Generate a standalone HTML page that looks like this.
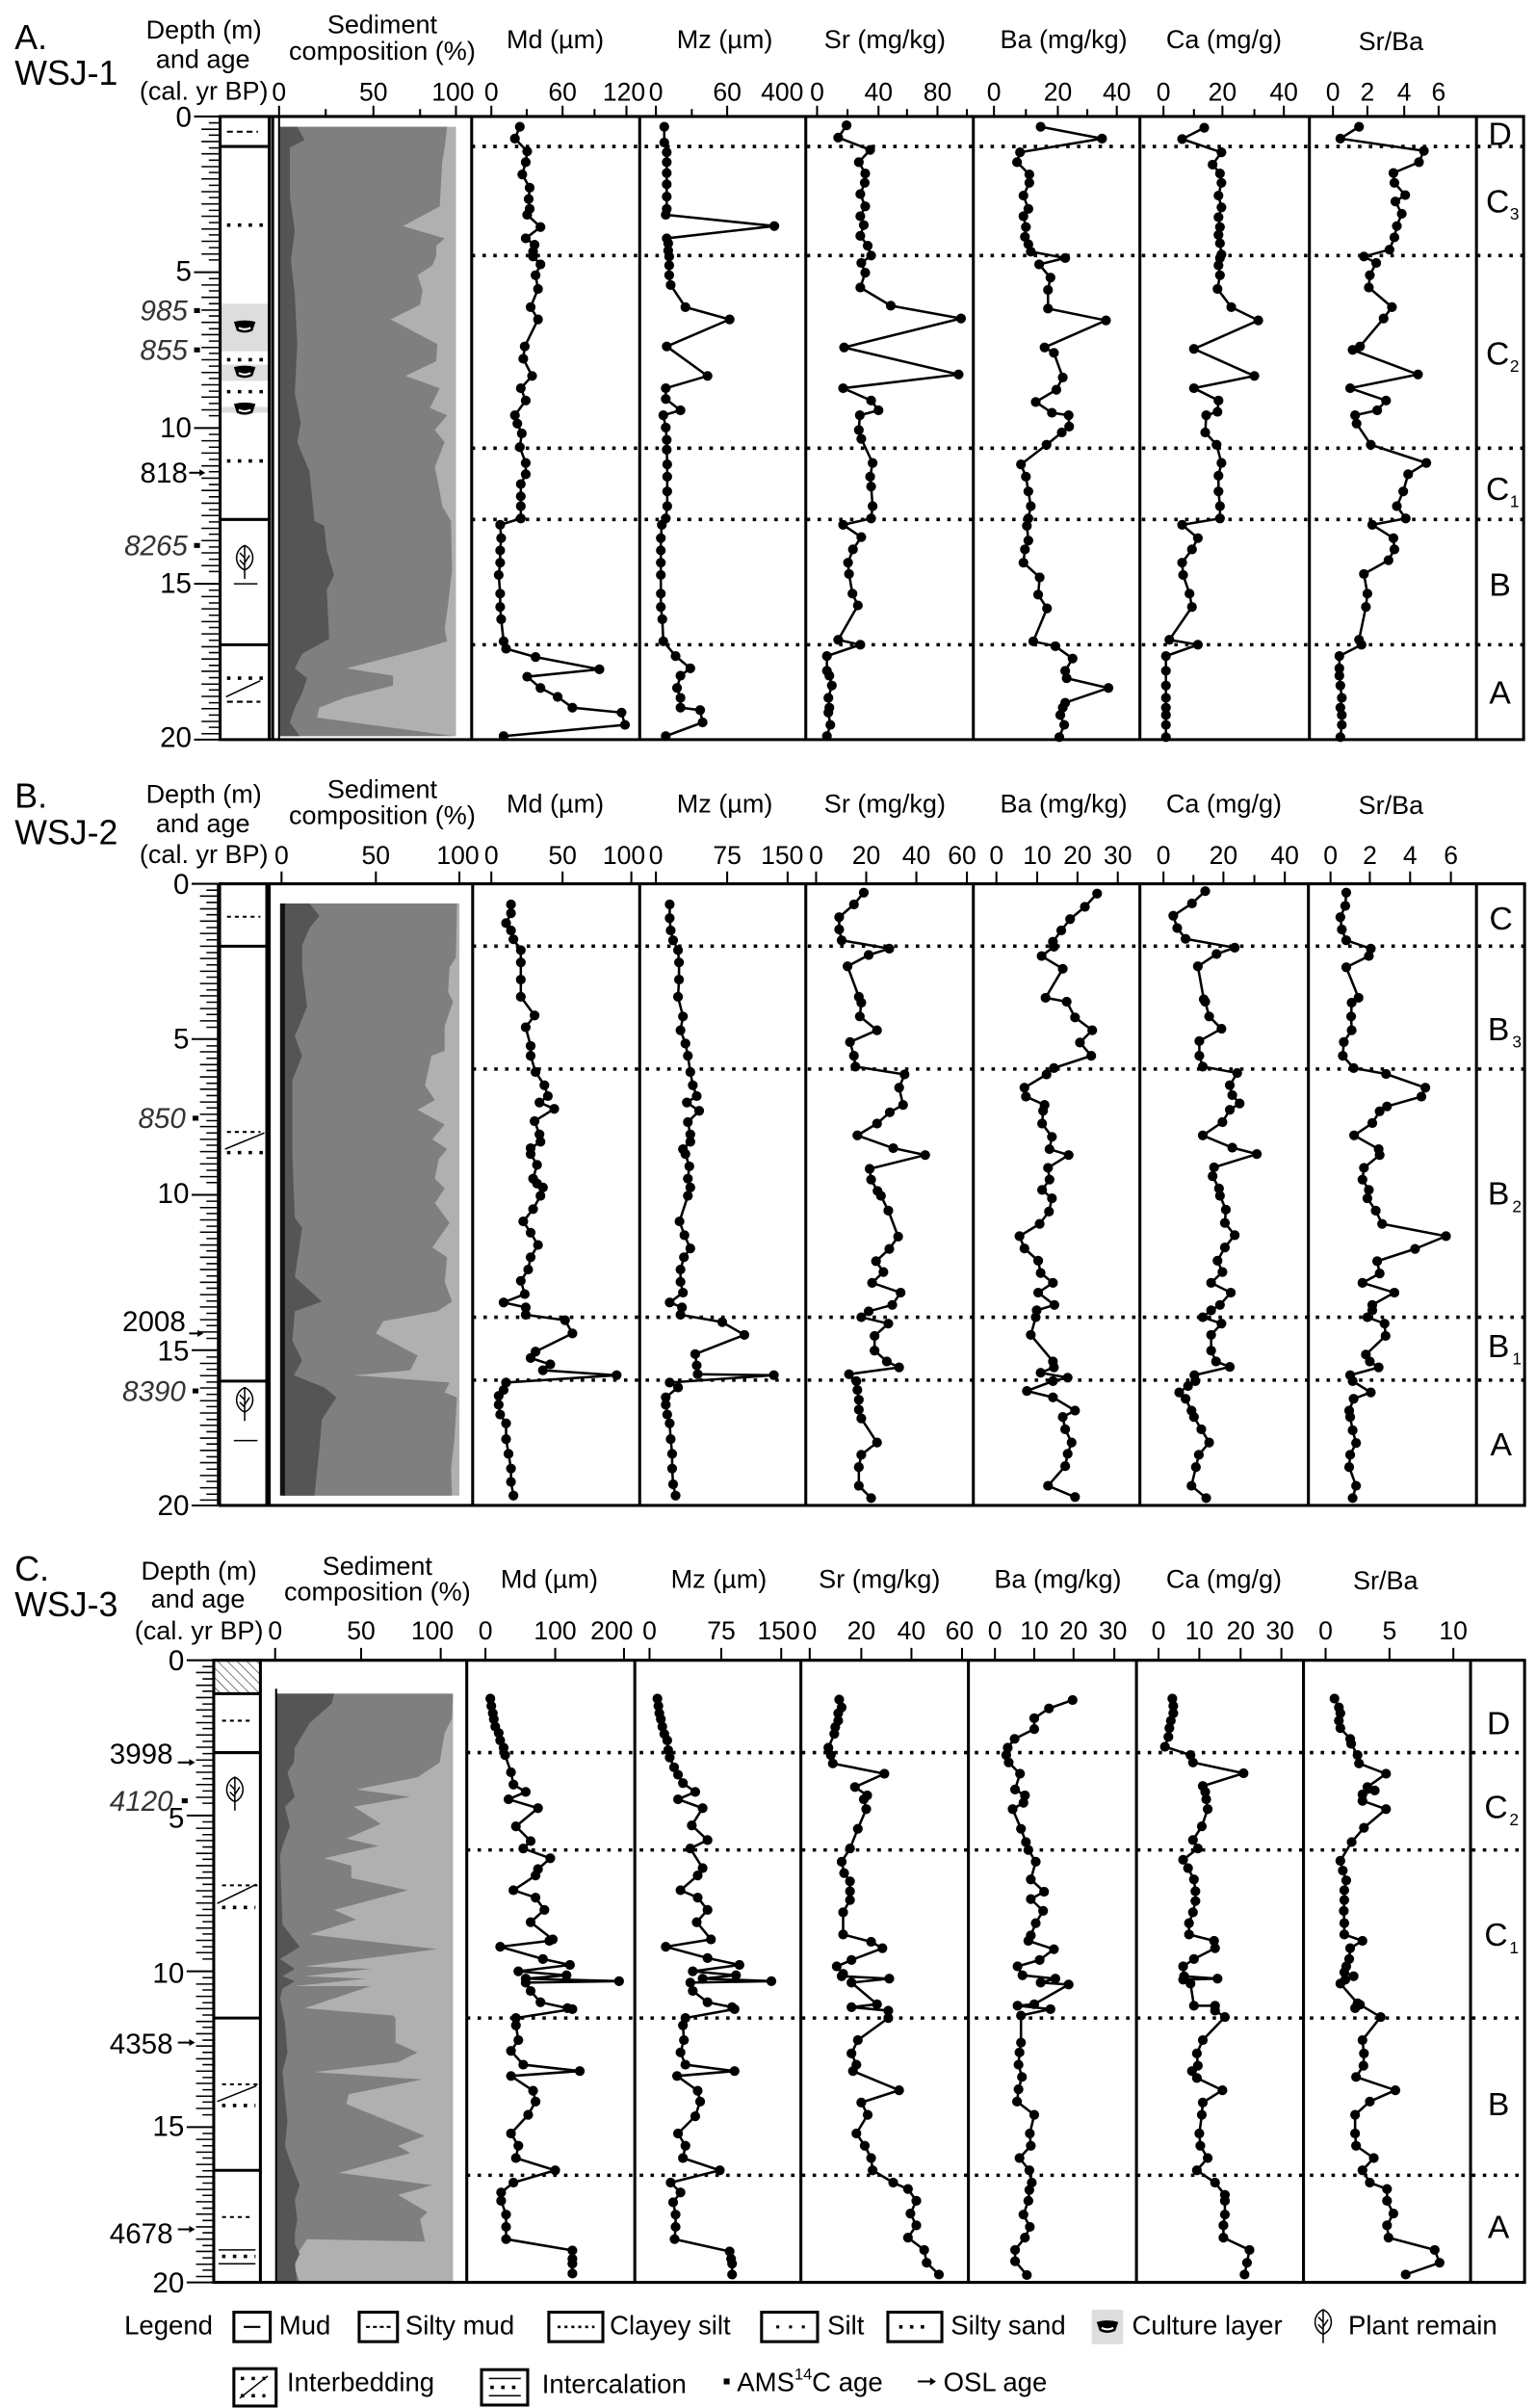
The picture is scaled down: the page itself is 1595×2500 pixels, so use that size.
<!DOCTYPE html>
<html><head><meta charset="utf-8"><style>html,body{margin:0;padding:0;background:#fff}svg{display:block}</style></head><body>
<svg xmlns="http://www.w3.org/2000/svg" width="1595" height="2500" viewBox="0 0 3126.2 4900" font-family="'Liberation Sans', Arial, sans-serif">
<defs>
<marker id="d" markerWidth="24" markerHeight="24" refX="12" refY="12" markerUnits="userSpaceOnUse"><circle cx="12" cy="12" r="10" fill="#000"/></marker>
<pattern id="hatch" width="14" height="14" patternUnits="userSpaceOnUse" patternTransform="rotate(-45)"><line x1="0" y1="0" x2="0" y2="14" stroke="#000" stroke-width="2"/></pattern>
<g id="bowl"><path d="M-22,-10 Q0,-16 22,-10 L16,8 Q0,16 -16,8 Z" fill="#000"/><path d="M-12,2 Q0,8 12,2" stroke="#fff" stroke-width="4" fill="none"/></g>
<g id="leaf"><path d="M0,-30 C22,-20 22,10 0,20 C-22,10 -22,-20 0,-30 Z M0,-30 L0,38 M0,-5 L-10,-15 M0,5 L10,-10 M0,10 L-10,0" fill="none" stroke="#000" stroke-width="3"/></g>
</defs>
<rect width="3126.2" height="4900" fill="#fff"/>
<style>
.s{fill:none;stroke:#000;stroke-width:5;stroke-linejoin:round;marker-start:url(#d);marker-mid:url(#d);marker-end:url(#d)}
.f{fill:none;stroke:#000;stroke-width:6}
.dot{stroke:#000;stroke-width:7;stroke-dasharray:7 15}
.t{font-size:53px;text-anchor:middle}
.k{font-size:52px;text-anchor:middle}
.dl{font-size:58px;text-anchor:end}
.ag{font-size:58px;text-anchor:end;font-style:italic;fill:#333}
.lt{font-size:66px;text-anchor:middle}
.sub{font-size:34px}
.hd{font-size:70px}
</style>

<!-- ================= PANEL A ================= -->
<g>
<text class="hd" x="30" y="100">A.</text><text class="hd" x="30" y="172">WSJ-1</text>
<text class="t" x="415" y="78">Depth (m)</text><text class="t" x="413" y="138">and age</text><text class="t" x="415" y="203">(cal. yr BP)</text>
<text class="t" x="778" y="68">Sediment</text><text class="t" x="778" y="122">composition (%)</text>
<text class="t" x="1130" y="98">Md (µm)</text><text class="t" x="1475" y="98">Mz (µm)</text>
<text class="t" x="1801" y="98">Sr (mg/kg)</text><text class="t" x="2165" y="98">Ba (mg/kg)</text><text class="t" x="2491" y="98">Ca (mg/g)</text><text class="t" x="2831" y="102">Sr/Ba</text>
<g class="k">
<text x="568" y="205">0</text><text x="760" y="205">50</text><text x="922" y="205">100</text>
<text x="1000" y="205">0</text><text x="1145" y="205">60</text><text x="1270" y="205">120</text>
<text x="1335" y="205">0</text><text x="1480" y="205">60</text><text x="1592" y="205">400</text>
<text x="1663" y="205">0</text><text x="1788" y="205">40</text><text x="1908" y="205">80</text>
<text x="2023" y="205">0</text><text x="2153" y="205">20</text><text x="2273" y="205">40</text>
<text x="2368" y="205">0</text><text x="2488" y="205">20</text><text x="2613" y="205">40</text>
<text x="2713" y="205">0</text><text x="2783" y="205">2</text><text x="2858" y="205">4</text><text x="2928" y="205">6</text>
</g>
<path stroke="#000" stroke-width="4" d="M568,215V237M663,222V237M760,215V237M855,222V237M928,215V237M1000,215V237M1072,222V237M1145,215V237M1210,222V237M1275,215V237M1335,215V237M1408,222V237M1480,215V237M1663,215V237M1725,222V237M1788,215V237M1846,222V237M1908,215V237M1968,222V237M2023,215V237M2088,222V237M2153,215V237M2213,222V237M2273,215V237M2368,215V237M2430,222V237M2488,215V237M2553,222V237M2613,215V237M2713,215V237M2783,215V237M2858,215V237M2928,215V237"/>
<path stroke="#000" stroke-width="3" d="M448,237V1505"/>
<text class="dl" x="390" y="258">0</text><text class="dl" x="390" y="571">5</text><text class="dl" x="390" y="890">10</text><text class="dl" x="390" y="1206">15</text><text class="dl" x="390" y="1520">20</text>
<text class="ag" x="382" y="652">985</text><text class="ag" x="382" y="732">855</text><text class="dl" x="382" y="982">818</text><text class="ag" x="382" y="1130">8265</text>
<rect x="395" y="627" width="12" height="10"/><rect x="395" y="707" width="12" height="10"/><rect x="395" y="1105" width="12" height="10"/>
<path d="M385,962H410" stroke="#000" stroke-width="4"/><path d="M418,962l-12,-7v14z"/>
<rect x="448" y="618" width="100" height="97" fill="#ddd"/><rect x="448" y="742" width="100" height="33" fill="#ddd"/><rect x="448" y="828" width="100" height="12" fill="#ddd"/>
<use href="#bowl" x="498" y="665"/><use href="#bowl" x="498" y="757"/><use href="#bowl" x="498" y="832"/>
<path stroke="#000" stroke-width="4" stroke-dasharray="12 8" d="M462,268H525"/>
<path class="dot" d="M462,458H538M462,732H538M462,797H538M462,938H538M462,1380H538"/>
<path stroke="#000" stroke-width="3" d="M460,1418L530,1385M476,1188H524"/>
<path stroke="#000" stroke-width="4" stroke-dasharray="12 8" d="M462,1428H530"/>
<use href="#leaf" x="498" y="1140"/>
<path stroke="#000" stroke-width="6" d="M448,298H548M448,1057H548M448,1312H548"/>
<rect x="570" y="258" width="358" height="1240" fill="#b0b0b0"/>
<polygon fill="#7f7f7f" points="570,258 910,258 905,300 900,330 895,420 820,460 905,485 888,500 888,520 880,540 850,560 860,590 855,620 795,650 890,700 888,735 825,765 895,790 875,830 910,845 885,875 905,900 885,950 895,1000 900,1030 918,1060 920,1160 912,1230 905,1280 910,1305 860,1320 705,1360 800,1375 800,1395 700,1420 650,1440 645,1460 925,1498 570,1498"/>
<polygon fill="#555" points="570,258 605,258 620,285 590,300 590,400 600,470 592,530 600,600 605,700 600,800 612,860 605,900 630,960 640,1060 660,1070 665,1120 680,1170 665,1200 670,1300 615,1330 600,1360 625,1380 615,1410 600,1440 590,1470 610,1498 570,1498"/>
<path class="f" d="M448,237H3101V1505H448ZM548,237V1505M555,237V1505M960,237V1505M1302,237V1505M1640,237V1505M1981,237V1505M2320,237V1505M2665,237V1505M3005,237V1505"/>
<path stroke="#000" stroke-width="4" d="M568,237V1505"/>
<path class="dot" d="M960,298H3101M960,520H3101M960,912H3101M960,1057H3101M960,1312H3101"/>
<g class="lt"><text x="3053" y="295">D</text><text x="3048" y="432">C</text><text x="3048" y="742">C</text><text x="3048" y="1017">C</text><text x="3053" y="1212">B</text><text x="3053" y="1432">A</text></g>
<g class="sub"><text x="3073" y="447">3</text><text x="3073" y="757">2</text><text x="3073" y="1032">1</text></g>
<polyline class="s" points="1058,258 1048,282 1073,308 1070,330 1063,355 1078,382 1076,405 1078,425 1073,437 1100,462 1070,485 1088,498 1085,512 1085,522 1100,538 1090,560 1095,588 1080,625 1095,650 1068,705 1065,730 1083,765 1060,790 1070,815 1048,845 1053,862 1062,882 1058,910 1070,942 1070,965 1060,985 1060,1010 1060,1030 1060,1055 1018,1068 1020,1095 1018,1120 1018,1145 1015,1170 1018,1208 1018,1235 1020,1260 1025,1305 1030,1320 1090,1337 1220,1362 1073,1377 1100,1400 1135,1418 1165,1440 1265,1450 1272,1475 1025,1498"/>
<polyline class="s" points="1352,258 1352,290 1357,310 1357,330 1357,352 1357,375 1357,400 1357,425 1355,437 1576,460 1357,485 1360,495 1360,510 1362,522 1362,540 1362,560 1365,580 1395,625 1485,650 1357,705 1440,765 1355,790 1355,812 1385,835 1350,845 1355,870 1357,895 1357,915 1358,945 1358,970 1358,1000 1358,1030 1355,1055 1347,1068 1345,1095 1345,1120 1345,1145 1345,1170 1345,1208 1345,1235 1348,1260 1350,1305 1375,1335 1405,1360 1385,1375 1378,1400 1385,1420 1385,1440 1425,1445 1430,1470 1355,1498"/>
<g transform="translate(1568,0)">
<polyline class="s" points="155,255 138,280 203,305 180,330 193,353 192,372 183,395 193,420 183,440 190,458 183,480 198,500 205,520 185,535 193,555 183,585 245,622 388,648 150,707 383,762 148,790 205,815 220,835 182,845 180,875 185,893 208,942 203,970 205,990 208,1030 205,1055 148,1068 185,1093 168,1118 158,1145 160,1168 167,1208 178,1232 138,1302 183,1312 115,1335 115,1365 120,1375 125,1395 118,1420 120,1440 118,1450 122,1475 115,1498"/>
<polyline class="s" points="550,258 675,282 508,310 502,330 527,355 527,372 515,398 525,425 515,440 520,462 518,482 525,497 530,512 600,525 547,538 570,565 565,590 565,628 683,652 558,707 577,718 595,768 582,793 540,818 573,840 607,845 608,868 593,880 562,905 510,945 520,970 525,1000 530,1030 525,1055 522,1070 525,1100 518,1118 515,1145 548,1175 545,1210 563,1238 535,1305 580,1315 615,1340 600,1365 603,1380 688,1400 600,1430 595,1440 590,1455 598,1475 588,1500"/>
<polyline class="s" points="883,260 838,283 918,310 900,335 915,353 918,372 912,398 918,422 912,442 915,462 912,478 915,495 918,518 915,525 912,540 915,560 910,588 938,625 993,652 862,710 985,765 862,790 912,815 910,838 887,845 885,880 908,905 918,942 912,968 912,1000 915,1030 915,1055 838,1068 870,1095 858,1118 838,1145 840,1170 853,1208 858,1235 812,1302 870,1312 805,1335 805,1365 805,1395 805,1420 805,1440 805,1455 805,1475 805,1500"/>
<polyline class="s" points="1198,258 1160,282 1330,307 1320,330 1268,352 1270,372 1292,397 1272,410 1285,435 1275,460 1270,483 1260,508 1208,522 1233,535 1220,560 1218,585 1265,625 1248,648 1200,705 1185,712 1318,762 1180,790 1253,815 1235,835 1190,845 1193,862 1222,905 1335,942 1298,965 1288,1000 1275,1030 1293,1055 1225,1068 1268,1095 1270,1118 1258,1140 1208,1168 1215,1208 1212,1235 1198,1302 1203,1312 1158,1335 1158,1360 1158,1375 1160,1395 1163,1420 1160,1440 1163,1455 1163,1475 1160,1500"/>
</g>
<path stroke="#000" stroke-width="3" d="M425,250H448M410,263H448M425,275H448M410,288H448M425,301H448M410,313H448M425,326H448M410,339H448M425,351H448M410,364H448M425,377H448M410,390H448M425,402H448M410,415H448M425,428H448M410,440H448M425,453H448M410,466H448M425,478H448M410,491H448M425,504H448M410,517H448M425,529H448M425,567H448M410,580H448M425,592H448M410,605H448M425,618H448M410,631H448M425,643H448M410,656H448M425,669H448M410,681H448M425,694H448M410,707H448M425,719H448M410,732H448M425,745H448M410,758H448M425,770H448M410,783H448M425,796H448M410,808H448M425,821H448M410,834H448M425,846H448M425,884H448M410,897H448M425,910H448M410,922H448M425,935H448M410,948H448M425,960H448M410,973H448M425,986H448M410,998H448M425,1011H448M410,1024H448M425,1037H448M410,1049H448M425,1062H448M410,1075H448M425,1087H448M410,1100H448M425,1113H448M410,1125H448M425,1138H448M410,1151H448M425,1163H448M425,1201H448M410,1214H448M425,1227H448M410,1239H448M425,1252H448M410,1265H448M425,1277H448M410,1290H448M425,1303H448M410,1316H448M425,1328H448M410,1341H448M425,1354H448M410,1366H448M425,1379H448M410,1392H448M425,1404H448M410,1417H448M425,1430H448M410,1442H448M425,1455H448M410,1468H448M425,1480H448M410,1493H448"/>
<path stroke="#000" stroke-width="4" d="M395,237H448M395,554H448M395,871H448M395,1188H448M395,1505H448"/>
</g>

<!-- ================= PANEL B ================= -->
<g transform="translate(0,1548.4)">
<text class="hd" x="30" y="95">B.</text><text class="hd" x="30" y="170">WSJ-2</text>
<text class="t" x="415" y="85">Depth (m)</text><text class="t" x="413" y="145">and age</text><text class="t" x="415" y="208">(cal. yr BP)</text>
<text class="t" x="778" y="75">Sediment</text><text class="t" x="778" y="128">composition (%)</text>
<text class="t" x="1130" y="105">Md (µm)</text><text class="t" x="1475" y="105">Mz (µm)</text>
<text class="t" x="1801" y="105">Sr (mg/kg)</text><text class="t" x="2165" y="105">Ba (mg/kg)</text><text class="t" x="2491" y="105">Ca (mg/g)</text><text class="t" x="2831" y="108">Sr/Ba</text>
<g class="k">
<text x="573" y="210">0</text><text x="765" y="210">50</text><text x="932" y="210">100</text>
<text x="1000" y="210">0</text><text x="1145" y="210">50</text><text x="1270" y="210">100</text>
<text x="1335" y="210">0</text><text x="1480" y="210">75</text><text x="1592" y="210">150</text>
<text x="1661" y="210">0</text><text x="1763" y="210">20</text><text x="1865" y="210">40</text><text x="1958" y="210">60</text>
<text x="2028" y="210">0</text><text x="2111" y="210">10</text><text x="2193" y="210">20</text><text x="2275" y="210">30</text>
<text x="2368" y="210">0</text><text x="2490" y="210">20</text><text x="2615" y="210">40</text>
<text x="2708" y="210">0</text><text x="2788" y="210">2</text><text x="2870" y="210">4</text><text x="2953" y="210">6</text>
</g>
<path stroke="#000" stroke-width="4" d="M573,225V250M765,225V250M935,225V250M1000,225V250M1145,225V250M1285,225V250M1335,225V250M1480,225V250M1603,225V250M1661,225V250M1763,225V250M1865,225V250M1968,225V250M2028,225V250M2111,225V250M2193,225V250M2275,225V250M2368,225V250M2429,232V250M2490,225V250M2553,232V250M2615,225V250M2708,225V250M2788,225V250M2870,225V250M2953,225V250"/>
<path stroke="#000" stroke-width="3" d="M443,250V1515"/>
<text class="dl" x="385" y="270">0</text><text class="dl" x="385" y="585">5</text><text class="dl" x="385" y="900">10</text><text class="dl" x="385" y="1220">15</text><text class="dl" x="385" y="1535">20</text>
<text class="ag" x="378" y="747">850</text><text class="dl" x="378" y="1160">2008</text><text class="ag" x="378" y="1302">8390</text>
<rect x="392" y="722" width="12" height="10"/><rect x="392" y="1277" width="12" height="10"/>
<path d="M385,1165H405" stroke="#000" stroke-width="4"/><path d="M414,1165l-12,-7v14z"/>
<path stroke="#000" stroke-width="4" stroke-dasharray="8 8" d="M462,317H530M462,755H530"/>
<path class="dot" d="M462,797H538"/>
<path stroke="#000" stroke-width="3" d="M458,790L538,757M476,1383H524"/>
<use href="#leaf" x="498" y="1305"/>
<path stroke="#000" stroke-width="6" d="M447,377H543M447,1262H543"/>
<rect x="578" y="290" width="357" height="1205" fill="#b0b0b0"/>
<polygon fill="#7f7f7f" points="578,290 930,290 928,400 915,420 912,470 922,490 905,540 905,590 878,600 865,660 885,690 850,710 905,740 880,770 910,790 893,810 885,850 905,870 885,900 915,940 880,990 910,1010 905,1060 920,1100 890,1120 780,1140 765,1165 850,1210 835,1240 720,1250 915,1265 905,1285 930,1295 925,1380 918,1440 920,1495 578,1495"/>
<polygon fill="#555" points="578,290 630,290 650,315 630,340 615,375 615,420 625,500 600,560 615,600 595,650 595,800 600,930 615,950 600,1050 655,1100 600,1120 595,1180 615,1220 598,1250 660,1275 685,1295 655,1340 650,1400 640,1495 578,1495"/>
<path stroke="#111" stroke-width="10" d="M575,290V1495"/>
<path class="f" d="M447,250H3103V1515H447ZM543,250V1515M548,250V1515M962,250V1515M1302,250V1515M1640,250V1515M1981,250V1515M2320,250V1515M2663,250V1515M3005,250V1515"/>
<path class="dot" d="M962,377H3103M962,627H3103M962,1132H3103M962,1260H3103"/>
<g class="lt"><text x="3055" y="343">C</text><text x="3050" y="568">B</text><text x="3050" y="903">B</text><text x="3050" y="1213">B</text><text x="3055" y="1413">A</text></g>
<g class="sub"><text x="3078" y="583">3</text><text x="3078" y="918">2</text><text x="3078" y="1228">1</text></g>
<polyline class="s" points="1040,292 1040,310 1030,330 1040,345 1045,363 1060,385 1060,410 1060,445 1060,480 1088,518 1070,542 1080,580 1080,600 1090,633 1108,660 1115,682 1098,695 1128,708 1088,733 1098,760 1100,775 1080,788 1080,800 1093,822 1085,850 1093,860 1105,868 1100,885 1085,912 1065,937 1080,960 1095,985 1080,1010 1075,1035 1060,1058 1068,1085 1025,1102 1070,1112 1070,1127 1150,1138 1165,1165 1090,1202 1080,1215 1120,1228 1105,1240 1255,1250 1030,1265 1025,1280 1015,1292 1015,1310 1018,1330 1030,1348 1030,1380 1035,1410 1040,1440 1040,1467 1045,1495"/>
<polyline class="s" points="1363,292 1363,320 1365,345 1370,365 1380,385 1382,410 1382,445 1380,480 1390,520 1385,548 1395,575 1400,600 1405,633 1410,660 1418,682 1398,695 1423,712 1400,735 1405,760 1405,775 1390,790 1395,800 1403,825 1400,850 1405,868 1400,885 1383,937 1393,965 1405,992 1392,1010 1385,1035 1385,1060 1390,1082 1363,1102 1388,1112 1385,1127 1470,1142 1515,1168 1415,1207 1418,1230 1420,1248 1575,1250 1363,1265 1380,1275 1355,1295 1355,1310 1358,1330 1363,1348 1365,1380 1368,1410 1368,1440 1370,1472 1375,1495"/>
<g transform="translate(1568,0)">
<polyline class="s" points="190,268 170,292 140,318 140,343 145,365 242,382 200,395 157,418 180,480 185,492 182,520 217,548 162,572 170,600 173,622 273,638 262,665 270,700 243,715 217,738 177,762 250,788 315,802 202,830 205,852 218,875 225,885 240,915 260,968 242,993 215,1018 230,1040 207,1062 265,1082 248,1107 200,1120 185,1132 240,1145 212,1170 212,1200 237,1222 262,1234 160,1248 175,1262 177,1280 180,1300 180,1320 185,1338 217,1387 185,1412 180,1437 180,1475 205,1500"/>
<polyline class="s" points="665,270 640,297 610,322 592,345 575,368 577,378 552,397 595,423 560,482 603,490 620,522 655,548 630,573 653,600 577,625 562,638 517,665 520,683 558,700 555,712 553,738 573,765 568,790 607,802 565,828 568,852 553,873 573,890 567,917 548,942 507,967 517,992 545,1017 550,1042 575,1062 545,1082 578,1107 542,1118 540,1132 530,1168 575,1222 577,1234 550,1245 605,1255 575,1262 522,1282 575,1295 620,1322 595,1335 600,1360 613,1387 605,1410 600,1435 565,1475 620,1498"/>
<polyline class="s" points="885,265 858,290 820,315 828,340 845,362 945,380 908,393 870,418 882,485 885,490 893,520 918,545 873,570 873,600 880,622 950,635 935,660 940,680 955,697 935,710 920,735 880,762 940,787 990,800 903,827 900,845 913,870 915,885 927,913 925,940 945,965 925,990 910,1017 920,1040 897,1062 937,1082 915,1107 897,1118 880,1132 918,1145 897,1168 897,1200 907,1222 935,1233 863,1250 865,1262 850,1272 832,1285 845,1298 857,1322 862,1335 877,1360 893,1387 872,1412 866,1437 857,1475 887,1500"/>
<polyline class="s" points="1172,268 1170,295 1160,318 1163,343 1172,365 1222,382 1218,397 1172,420 1197,482 1183,492 1182,520 1183,548 1167,572 1165,600 1187,625 1253,637 1333,665 1325,683 1255,703 1240,713 1225,737 1188,762 1238,790 1240,802 1208,828 1205,852 1218,873 1215,890 1232,915 1245,942 1375,967 1312,993 1235,1018 1240,1043 1205,1062 1270,1082 1225,1107 1225,1118 1215,1132 1250,1145 1252,1170 1212,1208 1220,1222 1238,1234 1180,1250 1185,1262 1222,1285 1187,1298 1178,1322 1180,1335 1185,1362 1192,1388 1180,1412 1178,1437 1192,1475 1185,1500"/>
</g>
<path stroke="#000" stroke-width="3" d="M420,263H443M407,275H443M420,288H443M407,301H443M420,313H443M407,326H443M420,339H443M407,351H443M420,364H443M407,377H443M420,390H443M407,402H443M420,415H443M407,428H443M420,440H443M407,453H443M420,466H443M407,478H443M420,491H443M407,504H443M420,516H443M407,529H443M420,542H443M420,580H443M407,592H443M420,605H443M407,618H443M420,630H443M407,643H443M420,656H443M407,668H443M420,681H443M407,694H443M420,706H443M407,719H443M420,732H443M407,744H443M420,757H443M407,770H443M420,782H443M407,795H443M420,808H443M407,820H443M420,833H443M407,846H443M420,858H443M420,896H443M407,909H443M420,921H443M407,934H443M420,947H443M407,959H443M420,972H443M407,985H443M420,997H443M407,1010H443M420,1023H443M407,1035H443M420,1048H443M407,1061H443M420,1073H443M407,1086H443M420,1099H443M407,1111H443M420,1124H443M407,1137H443M420,1149H443M407,1162H443M420,1175H443M420,1213H443M407,1226H443M420,1238H443M407,1251H443M420,1264H443M407,1276H443M420,1289H443M407,1302H443M420,1314H443M407,1327H443M420,1340H443M407,1352H443M420,1365H443M407,1378H443M420,1390H443M407,1403H443M420,1416H443M407,1428H443M420,1441H443M407,1454H443M420,1466H443M407,1479H443M420,1492H443M407,1504H443"/>
<path stroke="#000" stroke-width="4" d="M390,250H443M390,566H443M390,883H443M390,1199H443M390,1515H443"/>
</g>

<!-- ================= PANEL C ================= -->
<g transform="translate(0,3116.4)">
<text class="hd" x="30" y="100">C.</text><text class="hd" x="30" y="172">WSJ-3</text>
<text class="t" x="405" y="98">Depth (m)</text><text class="t" x="403" y="155">and age</text><text class="t" x="405" y="220">(cal. yr BP)</text>
<text class="t" x="768" y="88">Sediment</text><text class="t" x="768" y="140">composition (%)</text>
<text class="t" x="1118" y="115">Md (µm)</text><text class="t" x="1463" y="115">Mz (µm)</text>
<text class="t" x="1790" y="115">Sr (mg/kg)</text><text class="t" x="2153" y="115">Ba (mg/kg)</text><text class="t" x="2491" y="115">Ca (mg/g)</text><text class="t" x="2820" y="118">Sr/Ba</text>
<g class="k">
<text x="560" y="220">0</text><text x="735" y="220">50</text><text x="880" y="220">100</text>
<text x="988" y="220">0</text><text x="1130" y="220">100</text><text x="1245" y="220">200</text>
<text x="1322" y="220">0</text><text x="1468" y="220">75</text><text x="1585" y="220">150</text>
<text x="1648" y="220">0</text><text x="1753" y="220">20</text><text x="1855" y="220">40</text><text x="1953" y="220">60</text>
<text x="2025" y="220">0</text><text x="2105" y="220">10</text><text x="2185" y="220">20</text><text x="2265" y="220">30</text>
<text x="2358" y="220">0</text><text x="2441" y="220">10</text><text x="2525" y="220">20</text><text x="2605" y="220">30</text>
<text x="2698" y="220">0</text><text x="2828" y="220">5</text><text x="2958" y="220">10</text>
</g>
<path stroke="#000" stroke-width="4" d="M560,237V262M735,237V262M897,237V262M988,237V262M1130,237V262M1270,237V262M1322,237V262M1468,237V262M1590,237V262M1648,237V262M1753,237V262M1855,237V262M1958,237V262M2025,237V262M2105,237V262M2185,237V262M2268,237V262M2358,237V262M2441,237V262M2525,237V262M2608,237V262M2698,237V262M2828,237V262M2958,237V262"/>
<path stroke="#000" stroke-width="3" d="M435,262V1528"/>
<text class="dl" x="375" y="282">0</text><text class="dl" x="375" y="603">5</text><text class="dl" x="375" y="918">10</text><text class="dl" x="375" y="1230">15</text><text class="dl" x="375" y="1548">20</text>
<text class="dl" x="352" y="472">3998</text><text class="ag" x="352" y="568">4120</text><text class="dl" x="352" y="1062">4358</text><text class="dl" x="352" y="1448">4678</text>
<rect x="370" y="543" width="12" height="10"/>
<path d="M362,470H388M362,1040H388M362,1420H388" stroke="#000" stroke-width="4"/><path d="M397,470l-12,-7v14zM397,1040l-12,-7v14zM397,1420l-12,-7v14z"/>
<rect x="437" y="264" width="91" height="66" fill="url(#hatch)"/>
<path stroke="#000" stroke-width="4" stroke-dasharray="8 8" d="M452,385H515M452,720H525M452,1125H525M452,1395H515"/>
<path class="dot" d="M452,765H520M452,1168H520M452,1475H520"/>
<path stroke="#000" stroke-width="3" d="M442,757L522,718M442,1160L522,1128M445,1462H520M445,1490H520"/>
<use href="#leaf" x="478" y="530"/>
<path stroke="#000" stroke-width="6" d="M435,330H530M435,450H530M435,990H530M435,1300H530"/>
<rect x="562" y="330" width="360" height="1198" fill="#b0b0b0"/>
<polygon fill="#7f7f7f" points="562,330 922,330 920,380 905,410 895,470 850,500 725,525 835,540 720,560 775,595 705,625 770,640 660,665 715,680 715,705 830,730 680,770 725,790 630,820 890,850 620,885 755,890 620,905 745,910 600,925 755,925 620,970 800,985 805,990 805,1040 850,1060 810,1080 640,1100 860,1115 710,1145 705,1165 865,1230 810,1250 835,1265 690,1305 880,1330 810,1350 870,1385 855,1400 865,1445 625,1440 605,1470 600,1500 610,1528 562,1528"/>
<polygon fill="#555" points="562,330 680,330 675,350 630,390 600,440 598,470 585,490 600,540 580,560 590,600 575,640 570,660 575,800 610,845 570,870 600,890 575,905 600,915 575,930 570,950 580,1000 585,1060 575,1100 585,1200 580,1250 590,1280 610,1330 600,1360 605,1400 600,1430 600,1450 610,1470 600,1490 605,1528 562,1528"/>
<path stroke="#000" stroke-width="4" d="M562,320V1528"/>
<path class="f" d="M435,262H3103V1528H435ZM530,262V1528M950,262V1528M1292,262V1528M1630,262V1528M1971,262V1528M2313,262V1528M2653,262V1528M2993,262V1528"/>
<path class="dot" d="M950,450H3103M950,648H3103M950,990H3103M950,1310H3103"/>
<g class="lt"><text x="3050" y="413">D</text><text x="3045" y="583">C</text><text x="3045" y="843">C</text><text x="3050" y="1188">B</text><text x="3050" y="1438">A</text></g>
<g class="sub"><text x="3072" y="598">2</text><text x="3072" y="858">1</text></g>
<polyline class="s" points="998,340 1000,355 1003,370 1005,382 1008,397 1015,410 1018,425 1025,440 1028,455 1040,490 1045,515 1070,530 1035,545 1095,563 1050,600 1080,630 1065,645 1120,665 1095,687 1090,700 1045,730 1090,745 1108,770 1080,795 1125,830 1118,833 1018,845 1105,870 1160,882 1055,895 1153,903 1070,910 1260,915 1070,918 1080,935 1100,958 1155,970 1165,972 1050,990 1050,1005 1055,1035 1040,1057 1065,1085 1180,1098 1040,1108 1085,1138 1090,1160 1075,1187 1040,1225 1055,1250 1050,1275 1130,1300 1045,1325 1020,1345 1020,1362 1030,1390 1030,1415 1030,1440 1165,1463 1165,1480 1165,1490 1165,1510"/>
<polyline class="s" points="1338,340 1340,355 1342,370 1345,382 1348,397 1352,412 1358,425 1360,445 1363,460 1372,480 1380,495 1390,512 1415,530 1380,545 1430,563 1408,598 1440,628 1405,645 1430,685 1420,700 1385,730 1420,745 1440,770 1418,795 1447,830 1355,845 1440,868 1505,882 1410,895 1498,903 1430,910 1570,915 1405,918 1410,935 1440,958 1490,968 1495,972 1395,990 1390,1005 1392,1035 1385,1060 1395,1085 1495,1098 1378,1108 1420,1138 1425,1160 1415,1190 1380,1225 1395,1250 1390,1275 1465,1300 1365,1325 1385,1345 1370,1365 1375,1390 1375,1415 1373,1440 1485,1465 1488,1480 1490,1490 1490,1512"/>
<g transform="translate(1568,0)">
<polyline class="s" points="140,342 145,358 138,370 138,385 132,398 130,412 118,440 123,455 127,472 232,493 172,520 197,537 190,545 195,565 178,605 162,645 145,672 150,695 162,712 162,732 162,750 148,775 148,820 205,835 228,848 165,872 135,885 148,900 145,905 242,910 165,918 217,962 165,968 240,975 240,990 178,1035 165,1062 175,1085 168,1098 262,1137 185,1162 198,1187 175,1225 192,1250 205,1275 208,1300 250,1325 280,1338 297,1362 285,1388 297,1412 280,1437 313,1462 318,1488 343,1512"/>
<polyline class="s" points="615,343 567,360 537,380 537,402 497,422 483,440 480,455 485,470 508,493 498,525 518,537 515,552 493,565 510,605 520,632 525,648 540,672 530,708 557,733 530,748 555,772 540,797 530,822 525,833 577,850 548,872 503,885 513,903 580,910 550,918 607,922 537,962 503,965 570,972 510,985 510,1040 507,1060 505,1085 512,1110 505,1135 502,1160 537,1187 528,1225 530,1250 507,1275 527,1300 532,1325 527,1340 525,1362 515,1390 528,1415 518,1437 498,1462 498,1485 522,1513"/>
<polyline class="s" points="818,340 820,355 820,370 815,385 812,400 810,418 803,438 855,455 860,470 963,492 880,518 885,530 887,545 890,565 878,600 860,628 870,645 840,668 850,685 862,708 865,732 865,752 860,775 852,797 852,820 903,833 905,848 862,870 840,885 842,905 910,910 840,912 855,920 862,965 905,965 905,975 925,988 880,1035 868,1062 870,1087 858,1098 868,1112 920,1137 880,1162 878,1187 873,1225 875,1250 890,1275 868,1300 905,1325 925,1350 925,1362 925,1390 922,1412 922,1437 975,1462 970,1488 965,1512"/>
<polyline class="s" points="1148,340 1157,358 1160,370 1157,385 1160,400 1180,422 1182,432 1195,455 1198,472 1253,493 1215,520 1230,527 1205,535 1205,548 1253,565 1208,603 1183,632 1160,670 1165,690 1172,710 1168,730 1168,750 1167,772 1168,797 1168,820 1205,833 1180,848 1178,870 1172,885 1168,897 1187,905 1170,912 1160,920 1195,960 1190,970 1200,963 1242,988 1205,1035 1208,1062 1207,1087 1192,1110 1272,1137 1220,1160 1190,1187 1190,1225 1192,1250 1228,1275 1205,1300 1220,1325 1255,1338 1255,1362 1268,1388 1255,1412 1258,1437 1352,1462 1362,1488 1293,1512"/>
</g>
<path stroke="#000" stroke-width="3" d="M412,275H435M399,287H435M412,300H435M399,313H435M412,325H435M399,338H435M412,351H435M399,363H435M412,376H435M399,389H435M412,401H435M399,414H435M412,427H435M399,439H435M412,452H435M399,465H435M412,477H435M399,490H435M412,503H435M399,515H435M412,528H435M399,541H435M412,553H435M412,591H435M399,604H435M412,617H435M399,629H435M412,642H435M399,655H435M412,667H435M399,680H435M412,693H435M399,705H435M412,718H435M399,731H435M412,743H435M399,756H435M412,769H435M399,781H435M412,794H435M399,807H435M412,819H435M399,832H435M412,845H435M399,857H435M412,870H435M412,908H435M399,921H435M412,933H435M399,946H435M412,959H435M399,971H435M412,984H435M399,997H435M412,1009H435M399,1022H435M412,1035H435M399,1047H435M412,1060H435M399,1073H435M412,1085H435M399,1098H435M412,1111H435M399,1123H435M412,1136H435M399,1149H435M412,1161H435M399,1174H435M412,1187H435M412,1225H435M399,1237H435M412,1250H435M399,1263H435M412,1275H435M399,1288H435M412,1301H435M399,1313H435M412,1326H435M399,1339H435M412,1351H435M399,1364H435M412,1377H435M399,1389H435M412,1402H435M399,1415H435M412,1427H435M399,1440H435M412,1453H435M399,1465H435M412,1478H435M399,1491H435M412,1503H435M399,1516H435"/>
<path stroke="#000" stroke-width="4" d="M380,262H435M380,578H435M380,895H435M380,1212H435M380,1528H435"/>
</g>

<!-- ================= LEGEND ================= -->
<g font-size="54">
<text x="253" y="4750">Legend</text>
<rect x="476" y="4705" width="74" height="60" fill="none" stroke="#000" stroke-width="6"/><path d="M496,4735H530" stroke="#000" stroke-width="4"/>
<text x="568" y="4750">Mud</text>
<rect x="731" y="4705" width="78" height="60" fill="none" stroke="#000" stroke-width="6"/><path d="M745,4735H795" stroke="#000" stroke-width="4" stroke-dasharray="8 6"/>
<text x="825" y="4750">Silty mud</text>
<rect x="1117" y="4705" width="110" height="60" fill="none" stroke="#000" stroke-width="6"/><path d="M1135,4735H1210" stroke="#000" stroke-width="5" stroke-dasharray="6 8"/>
<text x="1241" y="4750">Clayey silt</text>
<rect x="1550" y="4705" width="114" height="60" fill="none" stroke="#000" stroke-width="6"/><path d="M1580,4735H1640" stroke="#000" stroke-width="6" stroke-dasharray="6 20"/>
<text x="1684" y="4750">Silt</text>
<rect x="1807" y="4705" width="110" height="60" fill="none" stroke="#000" stroke-width="6"/><path d="M1830,4735H1895" class="dot"/>
<text x="1935" y="4750">Silty sand</text>
<rect x="2222" y="4700" width="64" height="70" fill="#ddd"/><use href="#bowl" x="2254" y="4735"/>
<text x="2304" y="4750">Culture layer</text>
<use href="#leaf" x="2693" y="4730"/>
<text x="2744" y="4750">Plant remain</text>
<rect x="476" y="4820" width="86" height="76" fill="none" stroke="#000" stroke-width="6"/><path d="M490,4840H540M490,4875H540" class="dot"/><path d="M488,4880L545,4835" stroke="#000" stroke-width="3"/>
<text x="584" y="4866">Interbedding</text>
<rect x="980" y="4822" width="94" height="72" fill="none" stroke="#000" stroke-width="6"/><path d="M995,4840H1060M995,4875H1060" stroke="#000" stroke-width="3"/><path d="M998,4858H1060" class="dot"/>
<text x="1103" y="4870">Intercalation</text>
<rect x="1473" y="4840" width="12" height="12"/>
<text x="1500" y="4866">AMS<tspan font-size="32" dy="-24">14</tspan><tspan dy="24">C age</tspan></text>
<path d="M1868,4846H1895" stroke="#000" stroke-width="4"/><path d="M1905,4846l-12,-8v16z"/>
<text x="1920" y="4866">OSL age</text>
</g>
</svg>
</body></html>
